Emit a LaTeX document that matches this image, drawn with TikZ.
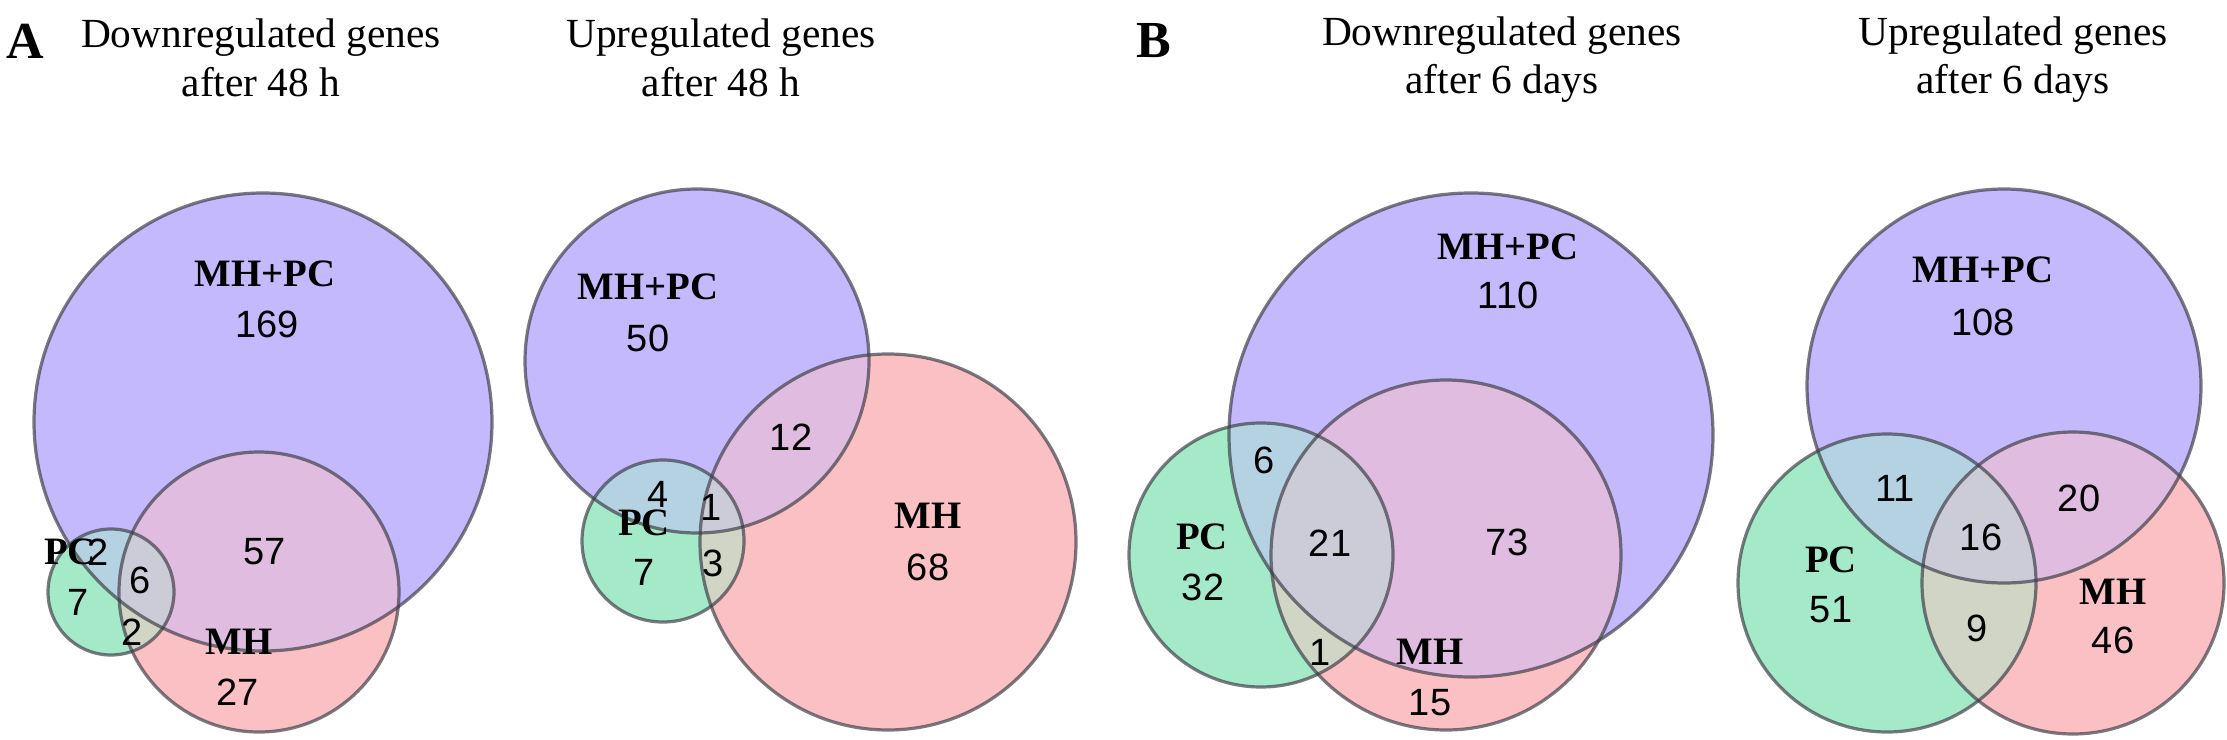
\documentclass[tikz,border=0pt]{standalone}
\usepackage{fontspec}
\setmainfont{Liberation Serif}
\newfontfamily\numfont{Liberation Sans}
\definecolor{cb}{RGB}{195,185,252}
\definecolor{cp}{RGB}{251,192,196}
\definecolor{cg}{RGB}{165,234,200}
\colorlet{cbp}{cb!50!cp}
\colorlet{cbg}{cb!50!cg}
\colorlet{cpg}{cp!50!cg}
\colorlet{cbpg}{cbp!67!cg}
\tikzset{
  num/.style={font=\numfont\fontsize{19}{19}\selectfont, inner sep=0pt},
  lab/.style={font=\bfseries\fontsize{19.4}{19.4}\selectfont, inner sep=0pt},
  ttl/.style={font=\fontsize{20.7}{24}\selectfont, anchor=base, inner sep=0pt},
  panel/.style={font=\bfseries\fontsize{26}{26}\selectfont, anchor=base, inner sep=0pt},
  outline/.style={draw={rgb,255:red,60;green,60;blue,70}, draw opacity=0.68, line width=1.6pt},
}
% args: blue x y r, pink x y r, green x y r (pixels)
\newcommand\myvenn[9]{%
  \fill[cb] (#1,#2) circle[radius={#3*0.5pt}];
  \fill[cp] (#4,#5) circle[radius={#6*0.5pt}];
  \fill[cg] (#7,#8) circle[radius={#9*0.5pt}];
  \begin{scope}
    \clip (#1,#2) circle[radius={#3*0.5pt}];
    \fill[cbp] (#4,#5) circle[radius={#6*0.5pt}];
    \fill[cbg] (#7,#8) circle[radius={#9*0.5pt}];
  \end{scope}
  \begin{scope}
    \clip (#4,#5) circle[radius={#6*0.5pt}];
    \fill[cpg] (#7,#8) circle[radius={#9*0.5pt}];
  \end{scope}
  \begin{scope}
    \clip (#1,#2) circle[radius={#3*0.5pt}];
    \clip (#4,#5) circle[radius={#6*0.5pt}];
    \fill[cbpg] (#7,#8) circle[radius={#9*0.5pt}];
  \end{scope}
  \draw[outline] (#1,#2) circle[radius={#3*0.5pt}];
  \draw[outline] (#4,#5) circle[radius={#6*0.5pt}];
  \draw[outline] (#7,#8) circle[radius={#9*0.5pt}];
}
\begin{document}
\begin{tikzpicture}[x=0.5pt,y=-0.5pt]
\path[use as bounding box, fill=white] (0,0) rectangle (2227,739);

% titles
\node[panel] (pa) at (25,58) {A};
\node[panel] (pb) at (1154,57) {B};
\node[ttl] (t1a) at (261,47) {Downregulated genes};
\node[ttl] (t1b) at (261,96) {after 48 h};
\node[ttl] (t2a) at (721,47) {Upregulated genes};
\node[ttl] (t2b) at (721,96) {after 48 h};
\node[ttl] (t3a) at (1502,45) {Downregulated genes};
\node[ttl] (t3b) at (1502,93) {after 6 days};
\node[ttl] (t4a) at (2013,45) {Upregulated genes};
\node[ttl] (t4b) at (2013,93) {after 6 days};

% panel 1
\myvenn{263}{422}{229}{259}{592}{140}{111}{592}{63}
\node[lab] (l1a) at (265,274) {MH+PC};
\node[num] (n1a) at (267,324) {169};
\node[lab] (l1b) at (70,552) {PC};
\node[num] (n1b) at (98,552) {2};
\node[num] (n1c) at (78,602) {7};
\node[num] (n1d) at (140,580) {6};
\node[num] (n1e) at (132,632) {2};
\node[num] (n1f) at (265,552) {57};
\node[lab] (l1c) at (239,642) {MH};
\node[num] (n1g) at (238,692) {27};

% panel 2
\myvenn{697}{361}{172}{888}{542}{188}{663}{541}{81}
\node[lab] (l2a) at (648,287) {MH+PC};
\node[num] (n2a) at (648,338) {50};
\node[num] (n2b) at (791,437) {12};
\node[num] (n2c) at (658,494) {4};
\node[num] (n2d) at (711,507) {1};
\node[lab] (l2b) at (644,523) {PC};
\node[num] (n2e) at (644,572) {7};
\node[num] (n2f) at (713,563) {3};
\node[lab] (l2c) at (928,516) {MH};
\node[num] (n2g) at (928,567) {68};

% panel 3
\myvenn{1471}{435}{242}{1446}{555}{175}{1261}{555}{132}
\node[lab] (l3a) at (1508,247) {MH+PC};
\node[num] (n3a) at (1508,295) {110};
\node[num] (n3b) at (1264,460) {6};
\node[lab] (l3b) at (1202,537) {PC};
\node[num] (n3c) at (1203,587) {32};
\node[num] (n3d) at (1330,543) {21};
\node[num] (n3e) at (1507,542) {73};
\node[num] (n3f) at (1320,652) {1};
\node[lab] (l3c) at (1430,652) {MH};
\node[num] (n3g) at (1430,703) {15};

% panel 4
\myvenn{2004}{386}{197}{2073}{583}{151}{1887}{583}{149}
\node[lab] (l4a) at (1983,270) {MH+PC};
\node[num] (n4a) at (1983,322) {108};
\node[num] (n4b) at (1895,488) {11};
\node[num] (n4c) at (2079,498) {20};
\node[num] (n4d) at (1981,537) {16};
\node[lab] (l4b) at (1831,560) {PC};
\node[num] (n4e) at (1831,610) {51};
\node[num] (n4f) at (1977,628) {9};
\node[lab] (l4c) at (2113,592) {MH};
\node[num] (n4g) at (2113,640) {46};
\end{tikzpicture}
\end{document}
